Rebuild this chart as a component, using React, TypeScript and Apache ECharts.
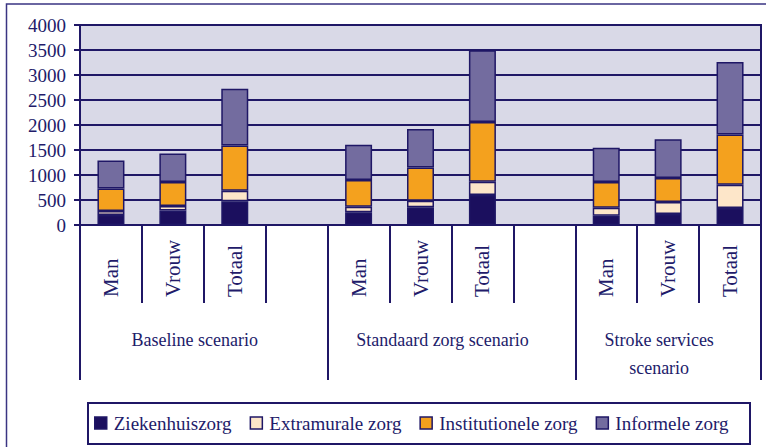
import React, { useEffect, useRef } from 'react';
import * as echarts from 'echarts';

const slots = ['Man', 'Vrouw', 'Totaal', '', 'Man', 'Vrouw', 'Totaal', '', 'Man', 'Vrouw', 'Totaal'];
const groupLabels = ['Baseline scenario', 'Standaard zorg scenario', 'Stroke services\nscenario'];
const groupFirstSlot = [0, 4, 8];
const groupLastSlot = [3, 7, 10];
const seriesNames = ['Ziekenhuiszorg', 'Extramurale zorg', 'Institutionele zorg', 'Informele zorg'];
const ziekenhuiszorg = [200, 290, 475, null, 255, 355, 600, null, 185, 220, 340];
const extramurale = [80, 90, 210, null, 110, 130, 265, null, 160, 240, 465];
const institutionele = [450, 480, 905, null, 535, 665, 1195, null, 515, 480, 1005];
const informele = [560, 570, 1135, null, 705, 770, 1435, null, 685, 775, 1450];
const yMin = 0;
const yMax = 4000;
const yInterval = 500;

const NAVY = '#1f1766';
const TEXT = '#221b6a';
const FONT = 'Liberation Serif';
const colors = ['#1b0f5e', '#fde6c9', '#f4a11e', '#736c9f'];

export default function App() {
  const ref = useRef<HTMLDivElement>(null);
  useEffect(() => {
    if (!ref.current) return;
    const chart = echarts.init(ref.current, null, { renderer: 'svg' });
    const values = [ziekenhuiszorg, extramurale, institutionele, informele];
    const option: any = {
      animation: false,
      backgroundColor: '#ffffff',
      textStyle: { fontFamily: FONT },
      grid: {
        left: 80,
        top: 25,
        right: 5,
        height: 200,
        show: true,
        backgroundColor: '#d9d9e7',
        borderColor: NAVY,
        borderWidth: 2,
      },
      legend: {
        left: 94,
        top: 413,
        padding: 0,
        itemWidth: 12,
        itemHeight: 12,
        itemGap: 18,
        icon: 'rect',
        itemStyle: { borderColor: NAVY, borderWidth: 1.5 },
        textStyle: { fontFamily: FONT, fontSize: 19, color: TEXT, padding: [0, 0, 0, 2], lineHeight: 20 },
        data: seriesNames,
      },
      xAxis: [
        {
          type: 'category',
          data: slots,
          axisLine: { lineStyle: { color: NAVY, width: 2 } },
          axisTick: { show: true, interval: 0, length: 78, lineStyle: { color: NAVY, width: 2 } },
          axisLabel: {
            interval: 0,
            rotate: 90,
            align: 'left',
            verticalAlign: 'middle',
            margin: 72,
            fontFamily: FONT,
            fontSize: 21,
            color: TEXT,
          },
        },
        {
          type: 'category',
          data: slots,
          position: 'bottom',
          axisLine: { show: false },
          axisTick: {
            show: true,
            length: 155,
            interval: (i: number) => groupFirstSlot.indexOf(i) >= 0,
            lineStyle: { color: NAVY, width: 2 },
          },
          axisLabel: { show: false },
        },
      ],
      yAxis: {
        type: 'value',
        min: yMin,
        max: yMax,
        interval: yInterval,
        axisLine: { show: true, lineStyle: { color: NAVY, width: 2 } },
        axisTick: { show: true, length: 6, lineStyle: { color: NAVY, width: 2 } },
        splitLine: { lineStyle: { color: NAVY, width: 2 } },
        axisLabel: { fontFamily: FONT, fontSize: 19, color: TEXT, margin: 14, formatter: (v: number) => String(v) },
      },
      series: seriesNames.map((name, k) => ({
        name,
        type: 'bar',
        stack: 'total',
        barWidth: 27,
        data: values[k],
        itemStyle: { color: colors[k], borderColor: NAVY, borderWidth: 1.5 },
      })),
    };
    chart.setOption(option);

    const px = (i: number) => chart.convertToPixel({ xAxisIndex: 0 }, i) as number;
    const graphics: any[] = [
      {
        type: 'rect',
        shape: { x: 6.5, y: 4, width: 800, height: 500 },
        style: { fill: 'none', stroke: '#3a3482', lineWidth: 1.5 },
        silent: true,
      },
      {
        type: 'rect',
        shape: { x: 88, y: 403, width: 662, height: 41 },
        style: { fill: 'none', stroke: NAVY, lineWidth: 2 },
        silent: true,
      },
    ];
    groupLabels.forEach((label, g) => {
      const cx = (px(groupFirstSlot[g]) + px(groupLastSlot[g])) / 2 - 9;
      graphics.push({
        type: 'text',
        x: cx,
        y: 326,
        style: {
          text: label,
          fontFamily: FONT,
          fontSize: 18,
          fill: TEXT,
          align: 'center',
          verticalAlign: 'top',
          lineHeight: 28,
        },
        silent: true,
      });
    });
    chart.setOption({ graphic: graphics });

    return () => chart.dispose();
  }, []);
  return <div ref={ref} style={{ position: 'absolute', left: 0, top: 0, width: 766, height: 447 }} />;
}
